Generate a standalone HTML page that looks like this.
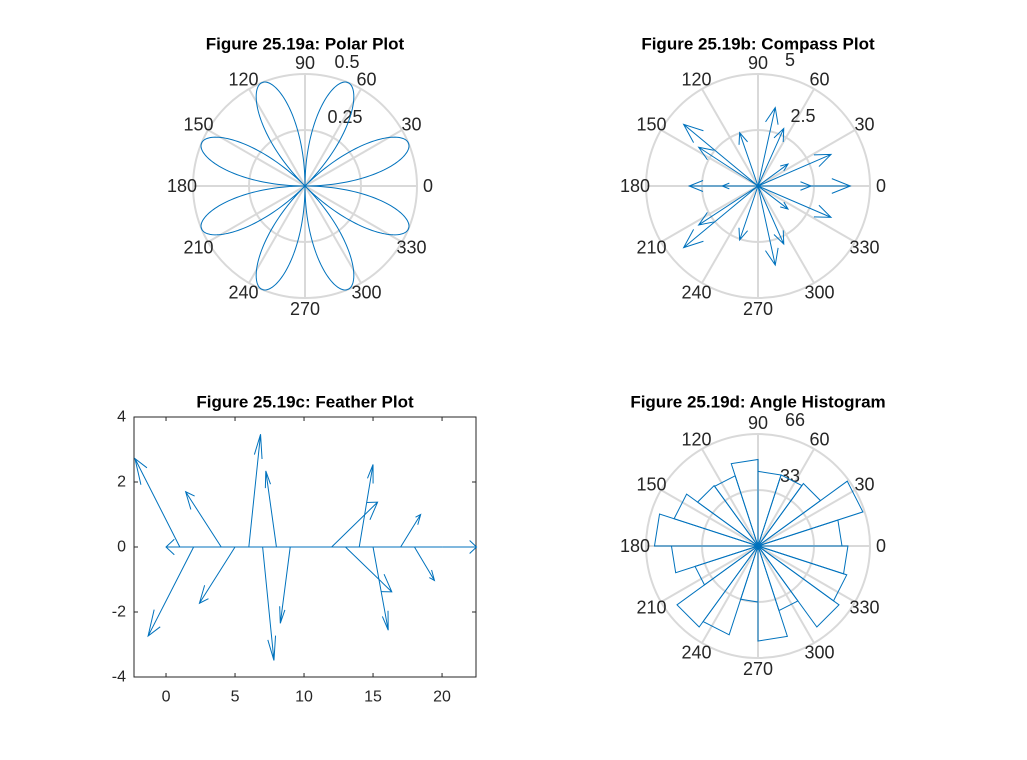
<!DOCTYPE html>
<html><head><meta charset="utf-8"><style>
body{margin:0;background:#fff;}
svg{display:block;font-family:"Liberation Sans",Arial,sans-serif;}
</style></head><body>
<svg id="fig" width="1027" height="760" viewBox="0 0 1027 760"></svg>
<script>
// ---- data ----
const polarRingLabels = ["0.25","0.5"];
const compassU = [4.12,3.26,3.26,2.37,1.34,1.34,0.77,1.15,1.15,0.77,-0.82,-0.82,-3.32,-3.32,-2.65,-2.65,-3.07,-1.6];
const compassV = [0,1.41,-1.40,0,0.98,-1.03,3.5,2.57,-2.59,-3.53,2.38,-2.41,2.75,-2.75,1.73,-1.74,0,0];
const compassRingLabels = ["2.5","5"];
const featherIdx = [1,2,3,4,5,6,7,8,9,12,13,14,15,17,18,20];
const featherU = [-3.25,-3.3,-3,-2.58,-2.58,0.85,0.82,-0.77,-0.72,3.33,3.36,1.0,1.1,1.45,1.45,2.5];
const featherV = [2.72,-2.74,0,1.70,-1.73,3.47,-3.49,2.34,-2.35,1.38,-1.38,2.54,-2.56,1.0,-1.03,0];
const featherXTicks = [0,5,10,15,20];
const featherYTicks = [-4,-2,0,2,4];
const histCounts = [49.5,65,45.5,44,44,51,43.5,44,52,61,51,39,59,55,33,56,40,59,55,53];
const histRingLabels = ["33","66"];

const NS="http://www.w3.org/2000/svg";
const svg=document.getElementById('fig');
const BLUE="#0072BD", GRID="#d9d9d9", TXT="#262626";
function mk(tag,attrs,parent){const e=document.createElementNS(NS,tag);for(const k in attrs)e.setAttribute(k,attrs[k]);(parent||svg).appendChild(e);return e;}
function txt(x,y,s,size,parent,anchor,weight){const t=mk('text',{x:x,y:y,'font-size':size,'text-anchor':anchor||'middle','dominant-baseline':'central',fill:weight?'#000':TXT,'font-weight':weight||'normal'},parent);t.textContent=s;return t;}

function polarGrid(g,cx,cy,R,ringLabels,lblOffsets){
  for(let k=1;k<=2;k++){
    const c=mk('circle',{cx:cx,cy:cy,r:R*k/2,fill:'none',stroke:GRID,'stroke-width':2},g);
    
    
  }
  for(let a=0;a<360;a+=30){
    const r=a*Math.PI/180;
    const l=mk('line',{x1:cx,y1:cy,x2:cx+R*Math.cos(r),y2:cy-R*Math.sin(r),stroke:GRID,'stroke-width':2},g);
    
    
    const t=txt(cx+123*Math.cos(r),cy-123*Math.sin(r),String(a),18,g);
    
    
  }
  ringLabels.forEach((s,i)=>{
    const t=txt(cx+lblOffsets[i][0],cy+lblOffsets[i][1],s,18,g);
    
    
  });
}
function title(x,y,s){const t=txt(x,y,s,17,svg,'middle','bold');}

// ---- (a) polar ----
(function(){
  const cx=305,cy=186,R=112,rmax=0.5;
  const g=mk('g',{});
  polarGrid(g,cx,cy,R,polarRingLabels,[[40,-69],[42,-124]]);
  let d='';
  for(let i=0;i<=720;i++){const th=i/720*2*Math.PI;const r=0.5*Math.abs(Math.sin(4*th));
    const x=cx+r/rmax*R*Math.cos(th),y=cy-r/rmax*R*Math.sin(th);d+=(i?'L':'M')+x.toFixed(2)+' '+y.toFixed(2);}
  const p=mk('path',{d:d,fill:'none',stroke:BLUE,'stroke-width':1},g);
  
  
  title(305,44,"Figure 25.19a: Polar Plot");
})();

function arrowPath(x0,y0,u,v,sx,sy){
  const tx=x0+u,ty=y0+v;
  const h1x=x0+(0.8*u-0.08*v),h1y=y0+(0.8*v+0.08*u);
  const h2x=x0+(0.8*u+0.08*v),h2y=y0+(0.8*v-0.08*u);
  return 'M'+sx(x0)+' '+sy(y0)+'L'+sx(tx)+' '+sy(ty)+'M'+sx(h1x)+' '+sy(h1y)+'L'+sx(tx)+' '+sy(ty)+'L'+sx(h2x)+' '+sy(h2y);
}

// ---- (b) compass ----
(function(){
  const cx=758,cy=186,R=112,rmax=5;
  const g=mk('g',{});
  polarGrid(g,cx,cy,R,compassRingLabels,[[45,-70],[32,-126]]);
  const sx=x=>(cx+x/rmax*R).toFixed(2), sy=y=>(cy-y/rmax*R).toFixed(2);
  compassU.forEach((u,i)=>{
    const p=mk('path',{d:arrowPath(0,0,u,compassV[i],sx,sy),fill:'none',stroke:BLUE,'stroke-width':1},g);
    
    
  });
  title(758,44,"Figure 25.19b: Compass Plot");
})();

// ---- (c) feather ----
(function(){
  const L=134,Rr=476,T=417,B=677,xmin=-2.32,xmax=22.46,ymin=-4,ymax=4;
  const g=mk('g',{});
  const sx=x=>(L+(x-xmin)/(xmax-xmin)*(Rr-L)).toFixed(2), sy=y=>(B-(y-ymin)/(ymax-ymin)*(B-T)).toFixed(2);
  const bx=mk('rect',{x:L,y:T,width:Rr-L,height:B-T,fill:'#fff',stroke:TXT,'stroke-width':1},g);
  
  featherXTicks.forEach(v=>{const x=+sx(v);
    mk('line',{x1:x,y1:B,x2:x,y2:B-4,stroke:TXT},g);mk('line',{x1:x,y1:T,x2:x,y2:T+4,stroke:TXT},g);
    const t=txt(x,697,String(v),16,g);});
  featherYTicks.forEach(v=>{const y=+sy(v);
    mk('line',{x1:L,y1:y,x2:L+4,y2:y,stroke:TXT},g);mk('line',{x1:Rr,y1:y,x2:Rr-4,y2:y,stroke:TXT},g);
    const t=txt(126,y,String(v),16,g,'end');});
  const base=mk('line',{x1:sx(1),y1:sy(0),x2:sx(20),y2:sy(0),stroke:BLUE,'stroke-width':1},g);
  
  featherU.forEach((u,i)=>{
    const p=mk('path',{d:arrowPath(featherIdx[i],0,u,featherV[i],sx,sy),fill:'none',stroke:BLUE,'stroke-width':1},g);
    
    
  });
  title(305,402,"Figure 25.19c: Feather Plot");
})();

// ---- (d) angle histogram ----
(function(){
  const cx=758,cy=546,R=112,rmax=66;
  const g=mk('g',{});
  polarGrid(g,cx,cy,R,histRingLabels,[[32,-70],[37,-126]]);
  const n=histCounts.length;
  histCounts.forEach((c,i)=>{
    const a0=i*2*Math.PI/n,a1=(i+1)*2*Math.PI/n,r=c/rmax*R;
    const d='M'+cx+' '+cy+'L'+(cx+r*Math.cos(a0)).toFixed(2)+' '+(cy-r*Math.sin(a0)).toFixed(2)+'L'+(cx+r*Math.cos(a1)).toFixed(2)+' '+(cy-r*Math.sin(a1)).toFixed(2)+'Z';
    const p=mk('path',{d:d,fill:'none',stroke:BLUE,'stroke-width':1},g);
    
    
  });
  title(758,402,"Figure 25.19d: Angle Histogram");
})();
</script>
</body></html>
